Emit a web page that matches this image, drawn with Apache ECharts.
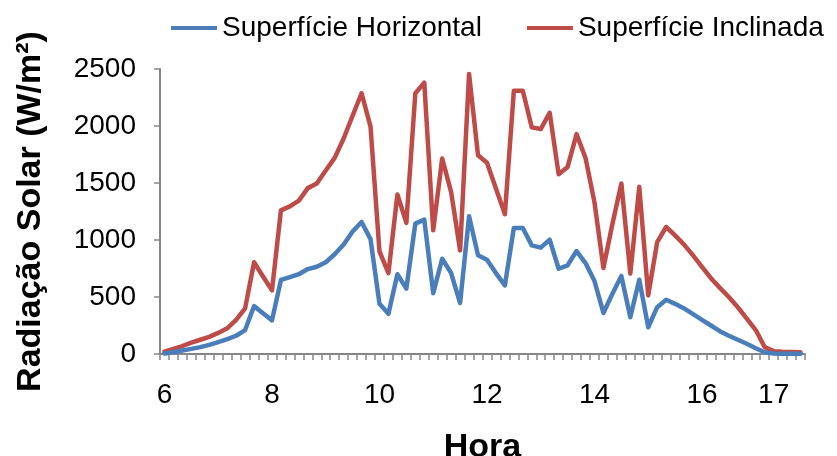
<!DOCTYPE html>
<html>
<head>
<meta charset="utf-8">
<script src="https://cdn.jsdelivr.net/npm/echarts@6/dist/echarts.min.js"></script>
<style>
  html, body { margin: 0; padding: 0; background: #ffffff; }
  #chart { width: 837px; height: 456px; }
</style>
</head>
<body>
<div id="chart"></div>
<script>
// 72 ten-minute readings across the day (06:00 onwards)
const sampleCount = 72;

// Hour labels shown under the axis and the reading index each one sits on
const hourLabelIndex = [0, 12, 24, 36, 48, 60, 68];
const hourLabelText = ['6', '8', '10', '12', '14', '16', '17'];

// Solar radiation on a horizontal surface (W/m²)
const horizontal = [
  5, 15, 30, 45, 60, 80, 105, 130, 160, 210,
  420, 357, 295, 650, 675, 700, 745, 765, 805, 875,
  960, 1075, 1158, 1008, 441, 353, 699, 573, 1144, 1179,
  534, 836, 710, 447, 1208, 866, 827, 710, 602, 1106,
  1106, 953, 933, 1003, 748, 778, 903, 798, 640, 360,
  529, 685, 323, 652, 235, 411, 476, 440, 400, 350,
  300, 250, 200, 160, 125, 90, 50, 15, 5, 3,
  2, 2
];

// Solar radiation on the tilted surface (W/m²)
const inclined = [
  20, 45, 70, 100, 125, 150, 185, 225, 300, 400,
  805, 680, 558, 1260, 1295, 1345, 1455, 1495, 1610, 1720,
  1890, 2090, 2287, 1995, 900, 710, 1400, 1150, 2286, 2380,
  1085, 1715, 1420, 909, 2456, 1744, 1677, 1451, 1226, 2310,
  2310, 1988, 1973, 2116, 1577, 1641, 1929, 1720, 1330, 755,
  1140, 1496, 705, 1466, 514, 982, 1114, 1040, 960, 865,
  765, 665, 580, 500, 410, 310, 210, 60, 25, 20,
  18, 15
];

const categories = [];
for (let i = 0; i < sampleCount; i++) categories.push(String(i));

const axisGray = '#868686';
const font = '"Liberation Sans", Arial, sans-serif';

const chart = echarts.init(document.getElementById('chart'), null, { renderer: 'canvas' });

chart.setOption({
  animation: false,
  backgroundColor: '#ffffff',
  textStyle: { fontFamily: font },
  legend: {
    left: 166,
    top: 9,
    itemWidth: 46,
    itemHeight: 4,
    itemGap: 45,
    icon: 'rect',
    textStyle: { fontSize: 28, color: '#000000', fontFamily: font },
    data: ['Superfície Horizontal', 'Superfície Inclinada']
  },
  grid: {
    left: 160, right: 32, top: 69, bottom: 102,
    containLabel: false,
    outerBoundsMode: 'none'
  },
  xAxis: {
    type: 'category',
    data: categories,
    boundaryGap: true,
    name: 'Hora',
    nameLocation: 'middle',
    nameGap: 77,
    nameTextStyle: { fontSize: 34, fontWeight: 'bold', color: '#000000', fontFamily: font },
    axisLine: { lineStyle: { color: axisGray, width: 2 } },
    axisTick: { show: true, interval: 0, length: 6, lineStyle: { color: axisGray, width: 1.5 } },
    axisLabel: {
      interval: function (idx) { return hourLabelIndex.indexOf(idx) >= 0; },
      formatter: function (val, idx) {
        const k = hourLabelIndex.indexOf(idx);
        return k >= 0 ? hourLabelText[k] : '';
      },
      fontSize: 28,
      color: '#000000',
      margin: 27,
      fontFamily: font
    },
    splitLine: { show: false }
  },
  yAxis: {
    type: 'value',
    min: 0,
    max: 2500,
    interval: 500,
    name: 'Radiação Solar (W/m²)',
    nameLocation: 'middle',
    nameGap: 112,
    nameRotate: 90,
    nameTextStyle: { fontSize: 34, fontWeight: 'bold', color: '#000000', fontFamily: font },
    axisLine: { show: true, lineStyle: { color: axisGray, width: 2 } },
    axisTick: { show: true, length: 6, lineStyle: { color: axisGray, width: 1.5 } },
    axisLabel: {
      fontSize: 28,
      color: '#000000',
      margin: 24,
      fontFamily: font,
      formatter: function (v) { return String(v); }
    },
    splitLine: { show: false }
  },
  series: [
    {
      name: 'Superfície Horizontal',
      type: 'line',
      data: horizontal,
      showSymbol: false,
      symbol: 'none',
      lineStyle: { color: '#4a7ebb', width: 4.5, join: 'round', cap: 'round' },
      itemStyle: { color: '#4a7ebb' },
      z: 3
    },
    {
      name: 'Superfície Inclinada',
      type: 'line',
      data: inclined,
      showSymbol: false,
      symbol: 'none',
      lineStyle: { color: '#be4b48', width: 4.5, join: 'round', cap: 'round' },
      itemStyle: { color: '#be4b48' },
      z: 2
    }
  ]
});
</script>
</body>
</html>
